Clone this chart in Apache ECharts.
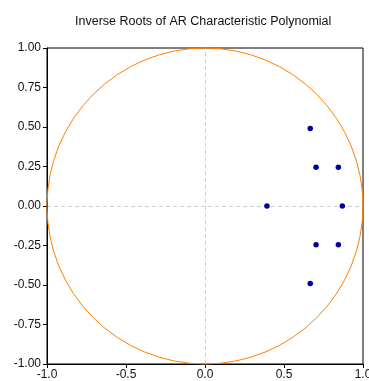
<!DOCTYPE html>
<html><head><meta charset="utf-8">
<script src="https://cdn.jsdelivr.net/npm/echarts@6/dist/echarts.min.js"></script>
<style>html,body{margin:0;padding:0;background:#fff}#c{width:369px;height:381px}</style>
</head><body><div id="c"></div>
<script>
var titleText = 'Inverse Roots of AR Characteristic Polynomial';
var rootReal = [0.666, 0.703, 0.844, 0.392, 0.869, 0.703, 0.844, 0.666];
var rootImag = [0.49, 0.245, 0.245, 0.0, 0.0, -0.245, -0.245, -0.49];
var unitCircle = [[0, 0, 1]];
var xTicks = [-1.0, -0.5, 0.0, 0.5, 1.0];
var yTicks = [-1.0, -0.75, -0.5, -0.25, 0, 0.25, 0.5, 0.75, 1.0];

var pts = rootReal.map(function (r, i) { return [r, rootImag[i]]; });
var font = 'Liberation Sans, Arial, sans-serif';
var chart = echarts.init(document.getElementById('c'), null, {renderer: 'canvas'});
chart.setOption({
  animation: false,
  backgroundColor: '#fff',
  title: {text: titleText, left: 70, top: 10,
    textStyle: {fontFamily: font, fontSize: 12.5, fontWeight: 'normal', color: '#111'}},
  grid: {left: 47, right: 6, top: 48, bottom: 17, show: true, borderColor: '#000', borderWidth: 1,
    backgroundColor: 'transparent', containLabel: false, outerBoundsMode: 'none'},
  xAxis: {type: 'value', min: -1, max: 1, interval: 0.5,
    axisLine: {show: true, onZero: false, lineStyle: {color: '#000', width: 1}},
    axisTick: {show: true, inside: false, length: 4, lineStyle: {color: '#000'}},
    axisLabel: {margin: 5, fontFamily: font, fontSize: 12, color: '#111', hideOverlap: false,
      formatter: function (v) { return v.toFixed(1); }},
    splitLine: {show: false}},
  yAxis: {type: 'value', min: -1, max: 1, interval: 0.25,
    axisLine: {show: true, onZero: false, lineStyle: {color: '#000', width: 1}},
    axisTick: {show: true, inside: false, length: 4, lineStyle: {color: '#000'}},
    axisLabel: {margin: 6, fontFamily: font, fontSize: 12, color: '#111', hideOverlap: false,
      formatter: function (v) { return v.toFixed(2); }},
    splitLine: {show: false}},
  series: [
    {type: 'scatter', data: [], z: 0, silent: true,
      markLine: {silent: true, symbol: ['none', 'none'], label: {show: false}, z: 0,
        lineStyle: {color: '#d0d0d0', type: [4, 3], width: 1},
        data: [{xAxis: 0}, {yAxis: 0}]}},
    {type: 'custom', data: unitCircle, silent: true, z: 1,
      renderItem: function (params, api) {
        var c = api.coord([api.value(0), api.value(1)]);
        var s = api.size([api.value(2), api.value(2)]);
        return {type: 'circle', shape: {cx: c[0], cy: c[1], r: s[0]},
          style: {fill: 'none', stroke: '#FF8000', lineWidth: 1}};
      }},
    {type: 'scatter', data: pts, symbolSize: 5.5, z: 5,
      itemStyle: {color: '#0000A0', opacity: 1}}
  ]
});
</script></body></html>
